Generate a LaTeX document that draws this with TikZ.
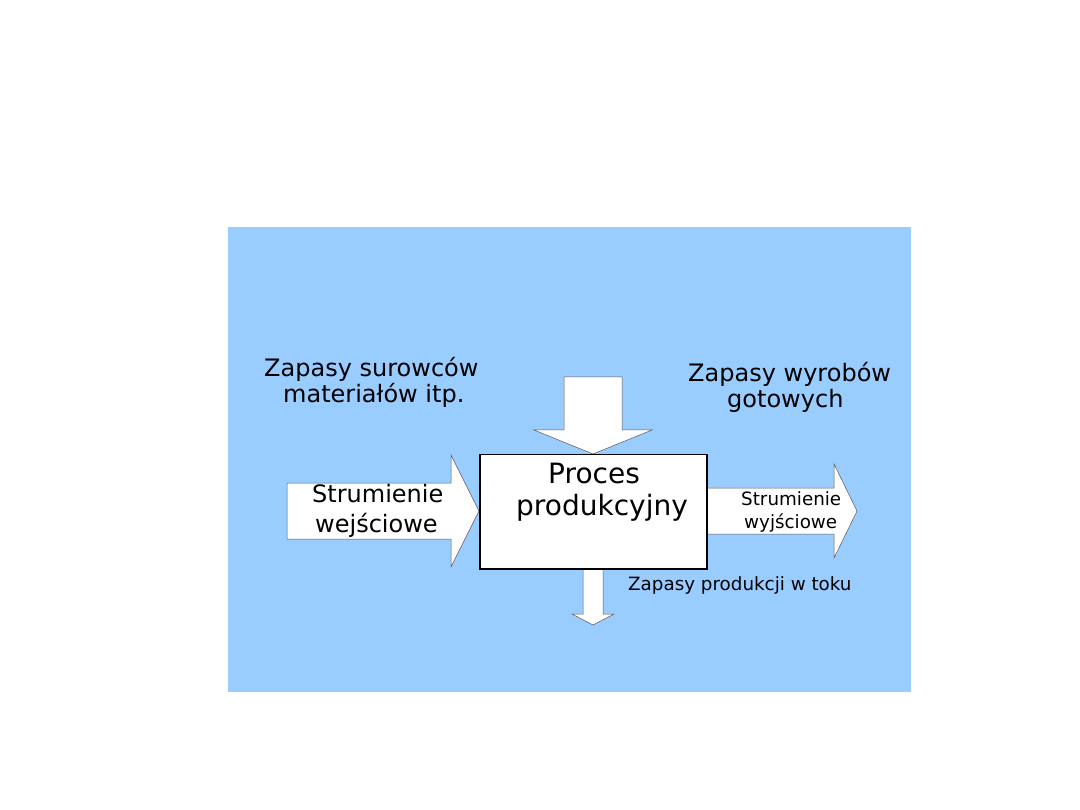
\documentclass[tikz,border=0pt]{standalone}
\usepackage{fontspec}
\setmainfont{DejaVu Sans}
\definecolor{bgblue}{HTML}{99CCFF}
\definecolor{arrowline}{HTML}{555555}
\begin{document}
\begin{tikzpicture}[x=1pt,y=-1pt,
  fatarrow/.style={fill=white,draw=arrowline,line width=0.5pt,line join=miter},
  big/.style={anchor=base west,inner sep=0pt,text=black,font=\fontsize{24}{29}\selectfont},
  huge/.style={anchor=base west,inner sep=0pt,text=black,font=\fontsize{28}{34}\selectfont},
  small/.style={anchor=base west,inner sep=0pt,text=black,font=\fontsize{18.3}{23}\selectfont}]
\useasboundingbox (0,0) rectangle (1080,810);
\fill[white] (0,0) rectangle (1080,810);
\fill[bgblue] (228,227) rectangle (911,692);
% top arrow (down into process)
\draw[fatarrow] (564,377) -- (622,377) -- (622,430) -- (652,430) -- (593,454) -- (534,430) -- (564,430) -- cycle;
% left input arrow
\draw[fatarrow] (287,483) -- (451,483) -- (451,455) -- (479,511) -- (451,567) -- (451,539) -- (287,539) -- cycle;
% right output arrow
\draw[fatarrow] (707,488) -- (834,488) -- (834,464) -- (857,511) -- (834,558) -- (834,534) -- (707,534) -- cycle;
% bottom arrow
\draw[fatarrow] (583,569) -- (603,569) -- (603,614) -- (614,614) -- (593,625) -- (572,614) -- (583,614) -- cycle;
% process box
\node[draw=black,line width=1.5pt,fill=white,minimum width=227pt,minimum height=114pt,inner sep=0pt,anchor=north west] (proc) at (479,454) {};
\node[huge] (proc1) at (548,483) {Proces};
\node[huge] (proc2) at (516,515) {produkcyjny};
\node[big] (sur1) at (264,377) {Zapasy surowców};
\node[big] (sur2) at (283,403) {materiałów itp.};
\node[big] (wyr1) at (688,382) {Zapasy wyrobów};
\node[big] (wyr2) at (727,408) {gotowych};
\node[big] (wej1) at (312,503) {Strumienie};
\node[big] (wej2) at (315,532) {wejściowe};
\node[small] (wyj1) at (741,505) {Strumienie};
\node[small] (wyj2) at (744,528) {wyjściowe};
\node[small] (toku) at (628,590) {Zapasy produkcji w toku};
\end{tikzpicture}
\end{document}
